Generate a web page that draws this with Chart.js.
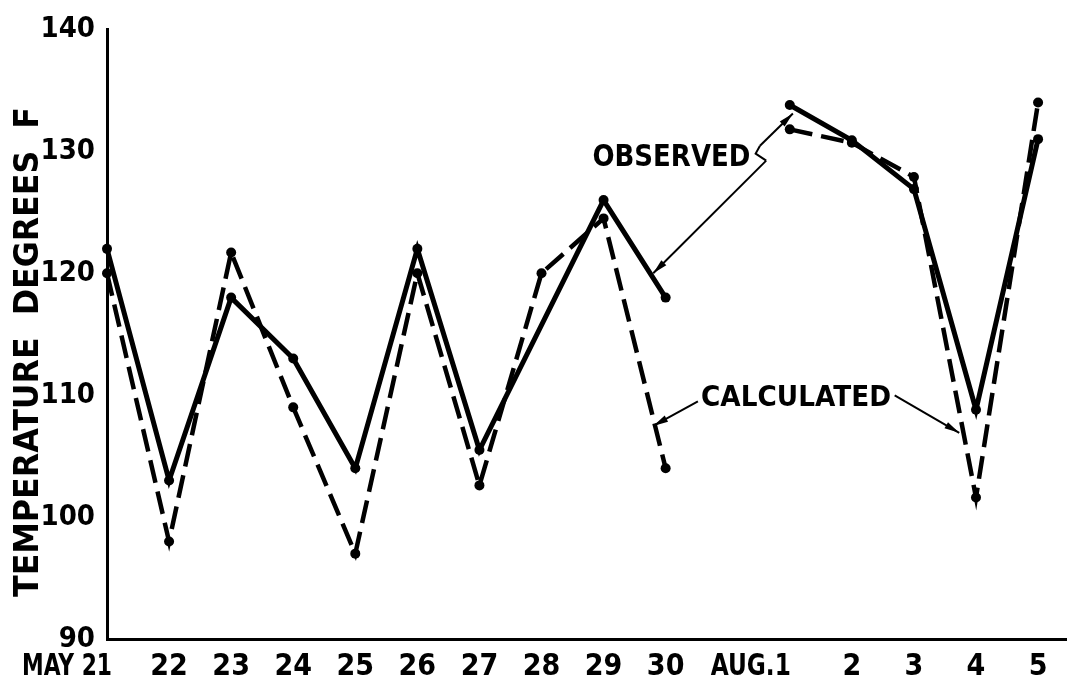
<!DOCTYPE html>
<html>
<head>
<meta charset="utf-8">
<script src="https://cdn.jsdelivr.net/npm/chart.js@4.4.0/dist/chart.umd.min.js"></script>
<style>
html,body{margin:0;padding:0;background:#fff;}
#wrap{width:1071px;height:682px;position:relative;}
</style>
</head>
<body>
<div id="wrap"><canvas id="temp-chart"></canvas></div>
<script>
// dias (el '' es el hueco entre MAY 30 y AUG.1)
const dias = ['MAY 21','22','23','24','25','26','27','28','29','30','','AUG.1','2','3','4','5'];
const observado = [122, 103, 118, 113, 104, 122, 105.5, null, 126, 118, null, 133.8, 130.9, 126.9, 108.8, 131];
const calculado = [120, 98, 121.7, 109, 97, 120, 102.6, 120, 124.5, 104, null, 131.8, 130.7, 127.9, 101.6, 134];
const ticksY = [90, 100, 110, 120, 130, 140];
const huecoIdx = dias.indexOf('');

const aPuntos = (vals) => vals.map((v, i) => ({x: i, y: v}));
// con spanGaps, p0DataIndex es el indice anterior en el array (puede ser el hueco)
const corteHueco = ctx => (ctx.p0DataIndex <= huecoIdx && ctx.p1DataIndex > huecoIdx) ? 'rgba(0,0,0,0)' : undefined;

function texto(ctx, t, x, y, ancho) {
	const w = ctx.measureText(t).width;
	ctx.save();
	ctx.translate(x, y);
	ctx.scale(ancho / w, 1);
	ctx.textAlign = 'left';
	ctx.fillText(t, 0, 0);
	ctx.restore();
}

function flecha(ctx, x0, y0, x1, y1) {
	ctx.beginPath(); ctx.moveTo(x0, y0); ctx.lineTo(x1, y1); ctx.stroke();
	const a = Math.atan2(y1 - y0, x1 - x0), L = 15, W = 3.5;
	ctx.beginPath();
	ctx.moveTo(x1, y1);
	ctx.lineTo(x1 - L * Math.cos(a) + W * Math.sin(a), y1 - L * Math.sin(a) - W * Math.cos(a));
	ctx.lineTo(x1 - L * Math.cos(a) - W * Math.sin(a), y1 - L * Math.sin(a) + W * Math.cos(a));
	ctx.closePath(); ctx.fill();
}

const rotulos = {
	id: 'rotulos',
	afterDraw(chart) {
		const {ctx, scales: {x, y}} = chart;
		const px = v => x.getPixelForValue(v), py = v => y.getPixelForValue(v);
		ctx.save();
		ctx.fillStyle = '#000'; ctx.strokeStyle = '#000';
		ctx.textBaseline = 'alphabetic';

		// etiquetas eje x
		ctx.font = 'bold 30px "DejaVu Sans Condensed", "DejaVu Sans", sans-serif';
		dias.forEach((d, i) => {
			if (!d) return;
			const xx = px(i);
			if (i === 0) texto(ctx, d, xx + 5 - 90, 675, 90);
			else if (d.startsWith('AUG')) texto(ctx, d, xx + 1 - 80, 675, 80);
			else { ctx.textAlign = 'center'; ctx.fillText(d, xx, 675); }
		});

		// titulo eje y
		ctx.font = 'bold 33px "DejaVu Sans", sans-serif';
		ctx.save();
		ctx.translate(38, 352);
		ctx.rotate(-Math.PI / 2);
		texto(ctx, 'TEMPERATURE  DEGREES  F', -245, 0, 490);
		ctx.restore();

		// OBSERVED
		ctx.font = 'bold 30px "DejaVu Sans", sans-serif';
		texto(ctx, 'OBSERVED', px(7.82), py(128.83), 158);
		ctx.lineWidth = 2;
		ctx.beginPath();
		ctx.moveTo(px(10.52), py(130.45));
		ctx.lineTo(px(10.45), py(129.81));
		ctx.lineTo(px(10.62), py(129.24));
		ctx.stroke();
		flecha(ctx, px(10.52), py(130.45), px(11.05), py(133.1));
		flecha(ctx, px(10.62), py(129.24), px(8.8), py(120.0));

		// CALCULATED
		ctx.font = 'bold 28px "DejaVu Sans", sans-serif';
		texto(ctx, 'CALCULATED', px(9.57), py(109.09), 190);
		flecha(ctx, px(9.52), py(109.5), px(8.8), py(107.48));
		flecha(ctx, px(12.69), py(109.98), px(13.73), py(106.91));
		ctx.restore();
	}
};

const config = {
	type: 'line',
	data: {
		datasets: [
			{label: 'OBSERVED', data: aPuntos(observado), borderColor: '#000', backgroundColor: '#000', borderWidth: 5,
				pointRadius: 5, pointBorderWidth: 0, spanGaps: true, tension: 0, clip: false, segment: {borderColor: corteHueco}},
			{label: 'CALCULATED', data: aPuntos(calculado), borderColor: '#000', backgroundColor: '#000', borderWidth: 4.5,
				borderDash: [23, 9], pointRadius: 5, pointBorderWidth: 0, spanGaps: true, tension: 0, clip: false, segment: {borderColor: corteHueco}}
		]
	},
	options: {
		responsive: true, maintainAspectRatio: false, animation: false,
		layout: {padding: {top: 20, right: 2, left: 0, bottom: 0}},
		plugins: {legend: {display: false}, tooltip: {enabled: false}},
		scales: {
			x: {type: 'linear', min: 0, max: 15.45,
				ticks: {display: false},
				grid: {drawOnChartArea: false, drawTicks: false},
				border: {display: true, color: '#000', width: 3},
				afterFit: s => { s.height = 43; }},
			y: {min: 90, max: 140,
				afterBuildTicks: s => { s.ticks = ticksY.map(v => ({value: v})); },
				ticks: {color: '#000', padding: 12, font: {family: '"DejaVu Sans Condensed", "DejaVu Sans", sans-serif', size: 29, weight: 'bold'}},
				grid: {drawOnChartArea: false, drawTicks: false},
				border: {display: true, color: '#000', width: 3},
				afterFit: s => { s.width = 107; }}
		}
	},
	plugins: [rotulos]
};

const grafico = new Chart(document.getElementById('temp-chart'), config);
</script>
</body>
</html>
